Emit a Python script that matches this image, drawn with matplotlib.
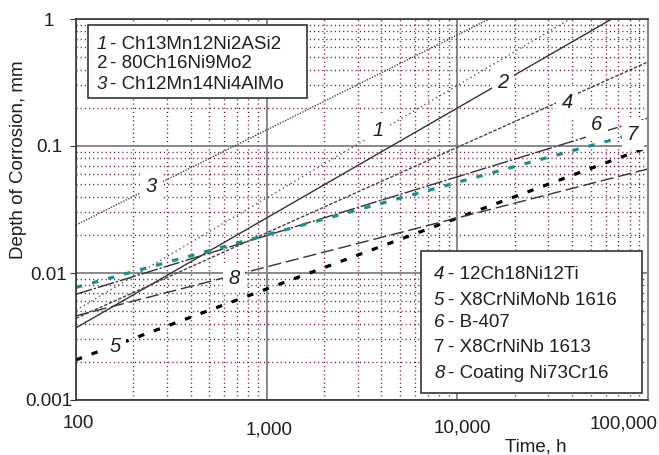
import matplotlib
matplotlib.use("Agg")
import matplotlib.pyplot as plt
import matplotlib.transforms as mtransforms
from matplotlib.patches import Rectangle
from matplotlib.ticker import LogLocator, NullFormatter

plt.rcParams['font.family'] = ['Liberation Sans', 'DejaVu Sans']

# ---- data (values at t = 100 h and t = 100,000 h; straight lines in log-log) ----
times = [100, 100000]
depth_1 = [0.0051, 2.3]     # Ch13Mn12Ni2ASi2
depth_2 = [0.0037, 1.46]    # 80Ch16Ni9Mo2
depth_3 = [0.0239, 4.19]    # Ch12Mn14Ni4AlMo
depth_4 = [0.0044, 0.46]    # 12Ch18Ni12Ti
depth_5 = [0.00207, 0.098]  # X8CrNiMoNb 1616
depth_6 = [0.0068, 0.166]   # B-407
depth_7 = [0.0077, 0.134]   # X8CrNiNb 1613
depth_8 = [0.0046, 0.066]   # Coating Ni73Cr16

legend1_nums = ["1", "2", "3"]
legend1_names = ["- Ch13Mn12Ni2ASi2", "- 80Ch16Ni9Mo2", "- Ch12Mn14Ni4AlMo"]
legend2_nums = ["4", "5", "6", "7", "8"]
legend2_names = ["- 12Ch18Ni12Ti", "- X8CrNiMoNb 1616", "- B-407",
                 "- X8CrNiNb 1613", "- Coating Ni73Cr16"]

xticks = [100, 1000, 10000, 100000]
xtick_labels = ["100", "1,000", "10,000", "100,000"]
yticks = [0.001, 0.01, 0.1, 1]
ytick_labels = ["0.001", "0.01", "0.1", "1"]

W, H = 659, 455
fig = plt.figure(figsize=(W / 100, H / 100), dpi=100)
ax = fig.add_axes([76 / W, 1 - 400 / H, (648 - 76) / W, (400 - 19) / H])
ax.set_xscale('log')
ax.set_yscale('log')
ax.set_xlim(100, 100000)
ax.set_ylim(0.001, 1)

FS = 13.5
TC = '#1e1e1e'

# grid
ax.xaxis.set_minor_locator(LogLocator(base=10, subs=range(2, 10)))
ax.yaxis.set_minor_locator(LogLocator(base=10, subs=range(2, 10)))
ax.xaxis.set_minor_formatter(NullFormatter())
ax.yaxis.set_minor_formatter(NullFormatter())
ax.grid(True, which='major', color='#808080', lw=1.3, ls='-')
ax.grid(True, which='minor', color='#701030', lw=1.0, ls=(0, (0.8, 2.2)))
ax.set_axisbelow(True)

# lines
dk = '#333333'
ax.plot(times, depth_1, color='#555555', lw=1.0, dashes=(1, 2.2))
ax.plot(times, depth_2, color=dk, lw=1.0)
ax.plot(times, depth_3, color='#444444', lw=1.0, dashes=(1, 1.0))
ax.plot(times, depth_4, color='#444444', lw=1.0, dashes=(2.5, 1.2))
ax.plot(times, depth_5, color='black', lw=2.3, dashes=(2.0, 3.2))
ax.plot(times, depth_6, color=dk, lw=1.0, dashes=(12, 1.5, 1.5, 1.5))
ax.plot(times, depth_7, color='#17908e', lw=2.3, dashes=(2.0, 3.2))
ax.plot(times, depth_8, color=dk, lw=1.0, dashes=(9.5, 3.5))

# spines
for s in ['left', 'bottom', 'top']:
    ax.spines[s].set_color(dk)
    ax.spines[s].set_linewidth(1.2)
ax.spines['right'].set_color('#888888')
ax.spines['right'].set_linewidth(1.5)

# ticks
ax.set_xticks(xticks, xtick_labels, fontsize=FS, color=TC)
ax.set_yticks(yticks, ytick_labels, fontsize=FS, color=TC)
ax.tick_params(axis='x', which='both', length=0, pad=11)
ax.tick_params(axis='y', which='major', length=4, color=dk, pad=15.5)
ax.tick_params(axis='y', which='minor', length=0)
for lab in ax.get_yticklabels():
    lab.set_horizontalalignment('center')

x_off = [(2, 0), (2, -6), (5, -4), (-24, 0)]
for lab, (dx, dy) in zip(ax.get_xticklabels(), x_off):
    lab.set_transform(lab.get_transform() +
                      mtransforms.ScaledTranslation(dx / 100, dy / 100, fig.dpi_scale_trans))

def fx(px):
    return px / W

def fy(py):
    return 1 - py / H

# axis titles
fig.text(fx(19), fy(160), "Depth of Corrosion, mm", rotation=90, ha='center', va='center',
         fontsize=FS, color=TC)
fig.text(fx(536), fy(447), "Time, h", ha='center', va='center', fontsize=FS, color=TC)

# curve labels
curve_labels = ["1", "2", "3", "4", "5", "6", "7", "8"]
label_pos = [(378, 130), (503, 83), (151, 187), (567, 102), (115, 347), (597, 125), (633, 135), (234, 278)]
for t, (px, py) in zip(curve_labels, label_pos):
    fig.text(fx(px), fy(py), t, ha='center', va='center', fontsize=FS + 1, style='italic',
             color=TC, zorder=5,
             bbox=dict(boxstyle='square,pad=0.25', fc='white', ec='none'))

# legend box 1
fig.patches.append(Rectangle((fx(88), fy(98)), fx(307) - fx(88), fy(25) - fy(98),
                             transform=fig.transFigure, fc='white', ec=dk, lw=1.2, zorder=6))
base1 = [49, 68, 89]
for num, name, by in zip(legend1_nums, legend1_names, base1):
    fig.text(fx(97), fy(by), num, ha='left', va='baseline', fontsize=FS,
             style='normal' if num == "2" else 'italic', color=TC, zorder=7)
    fig.text(fx(110), fy(by), name, ha='left', va='baseline', fontsize=FS, color=TC, zorder=7)

# legend box 2
fig.patches.append(Rectangle((fx(421), fy(393)), fx(642) - fx(421), fy(251) - fy(393),
                             transform=fig.transFigure, fc='white', ec=dk, lw=1.2, zorder=6))
base2 = [279, 305, 327, 352, 378]
for num, name, by in zip(legend2_nums, legend2_names, base2):
    fig.text(fx(434), fy(by), num, ha='left', va='baseline', fontsize=FS,
             style='normal' if num == "7" else 'italic', color=TC, zorder=7)
    fig.text(fx(448), fy(by), name, ha='left', va='baseline', fontsize=FS, color=TC, zorder=7)

fig.savefig("out.png", dpi=100)
